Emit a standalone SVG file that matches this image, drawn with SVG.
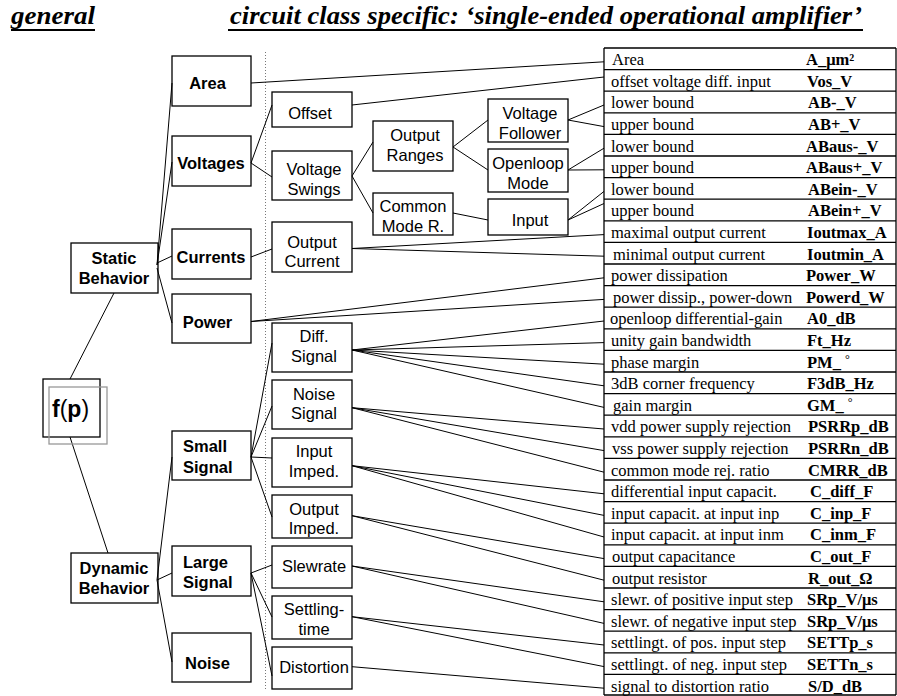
<svg xmlns="http://www.w3.org/2000/svg" width="897" height="696" viewBox="0 0 897 696">
<style>
.box{fill:none;stroke:#000;stroke-width:1.3}
.sh{fill:none;stroke:#999;stroke-width:1.3}
.nb{font-family:"Liberation Sans",Arial,sans-serif;font-size:16.5px;font-weight:bold;fill:#000}
.nr{font-family:"Liberation Sans",Arial,sans-serif;font-size:16.5px;fill:#000}
.c{text-anchor:middle}
.hd{font-family:"Liberation Serif","Times New Roman",serif;font-size:25px;font-weight:bold;font-style:italic;fill:#000}
.td{font-family:"Liberation Serif","Times New Roman",serif;font-size:16.5px;fill:#000}
.tp{font-family:"Liberation Serif","Times New Roman",serif;font-size:16.5px;font-weight:bold;fill:#000}
.ln{stroke:#000;stroke-width:1;fill:none}
.rl{stroke:#000;stroke-width:1.3}
.dot{stroke:#777;stroke-width:1;stroke-dasharray:1 2}
</style>

<g id="header">
<text class="hd" x="11" y="24" textLength="84" lengthAdjust="spacingAndGlyphs">general</text>
<rect x="11" y="29" width="84" height="2" fill="#000"/>
<text class="hd" x="230" y="24" textLength="632" lengthAdjust="spacingAndGlyphs">circuit class specific: ‘single-ended operational amplifier’</text>
<rect x="228" y="29" width="635" height="2" fill="#000"/>
</g>

<line class="dot" x1="265.5" y1="52" x2="265.5" y2="690"/>

<g id="connectors">
<path class="ln" d="M70,379L114,293 M70,437L108,553"/>
<path class="ln" d="M157,265L172,83 M157,265L172,162 M157,263L172,256 M157,268L172,323"/>
<path class="ln" d="M157,580L172,457 M157,580L172,573 M157,580L172,662"/>
<path class="ln" d="M251,163L272,105 M251,163L272,177 M251,257L272,249"/>
<path class="ln" d="M251,457L272,343 M251,457L272,406 M251,457L272,458 M251,457L272,517"/>
<path class="ln" d="M251,573L272,565 M251,573L272,617 M251,573L272,676"/>
<path class="ln" d="M352,176L373,142 M352,176L373,213"/>
<path class="ln" d="M453,147L488,120 M453,147L488,170 M453,213L488,220"/>
<path class="ln" d="M251,83L604,61.8 M352,105L604,77"/>
<path class="ln" d="M568,120L604,105 M568,120L604,126.6 M568,170L604,148.2 M568,170L604,169.8 M568,220L604,191.4 M568,220L604,203.5"/>
<path class="ln" d="M352,248.5L604,234.6 M352,248.5L604,256.2 M251,321.5L604,277.8 M251,321.5L604,299.4"/>
<path class="ln" d="M352,350L604,321 M352,350L604,342.6 M352,350L604,364.2 M352,350L604,385.8 M352,350L604,407.4"/>
<path class="ln" d="M352,407.7L604,429 M352,407.7L604,450.6 M352,407.7L604,472.2"/>
<path class="ln" d="M352,465.7L604,493.8 M352,465.7L604,515.4 M352,465.7L604,537"/>
<path class="ln" d="M352,515.7L604,558.6 M352,515.7L604,580.2"/>
<path class="ln" d="M352,566L604,601.8 M352,566L604,623.4 M352,616.7L604,645 M352,616.7L604,666.6 M352,666.7L604,688.2"/>
</g>

<g id="fp">
<rect class="box" x="43" y="379" width="57" height="58"/>
<rect class="sh" x="49" y="387" width="58" height="57"/>
<text x="52" y="417" font-family="Liberation Sans,Arial,sans-serif" font-size="23px"><tspan font-weight="bold">f</tspan>(<tspan font-weight="bold">p</tspan>)</text>
</g>

<g id="static"><rect class="box" x="71" y="243" width="87" height="50"/><text class="nb c" x="114" y="264">Static</text><text class="nb c" x="114" y="284">Behavior</text></g>
<g id="dynamic"><rect class="box" x="71" y="553" width="87" height="50"/><text class="nb c" x="114" y="574">Dynamic</text><text class="nb c" x="114" y="594">Behavior</text></g>

<g id="area"><rect class="box" x="172" y="56" width="79" height="50"/><text class="nb c" x="207.5" y="89">Area</text></g>
<g id="voltages"><rect class="box" x="172" y="136" width="79" height="50"/><text class="nb c" x="211" y="169">Voltages</text></g>
<g id="currents"><rect class="box" x="172" y="229" width="79" height="50"/><text class="nb c" x="211" y="263">Currents</text></g>
<g id="power"><rect class="box" x="172" y="294" width="79" height="49"/><text class="nb c" x="207.5" y="328">Power</text></g>
<g id="small"><rect class="box" x="172" y="431" width="79" height="49"/><text class="nb" x="183" y="452">Small</text><text class="nb" x="183" y="472.5">Signal</text></g>
<g id="large"><rect class="box" x="172" y="546" width="79" height="50"/><text class="nb" x="183" y="567.5">Large</text><text class="nb" x="183" y="587.5">Signal</text></g>
<g id="noise"><rect class="box" x="172" y="633" width="79" height="49"/><text class="nb c" x="207.5" y="669">Noise</text></g>

<g id="offset"><rect class="box" x="272" y="92" width="80" height="35"/><text class="nr c" x="310" y="118.5">Offset</text></g>
<g id="vswings"><rect class="box" x="272" y="151" width="80" height="49"/><text class="nr c" x="314" y="175.3">Voltage</text><text class="nr c" x="314" y="195.3">Swings</text></g>
<g id="ocurrent"><rect class="box" x="272" y="222" width="80" height="50"/><text class="nr c" x="312" y="247.7">Output</text><text class="nr c" x="312" y="267">Current</text></g>
<g id="diff"><rect class="box" x="272" y="323" width="80" height="49"/><text class="nr c" x="314" y="342">Diff.</text><text class="nr c" x="314" y="362">Signal</text></g>
<g id="noisesig"><rect class="box" x="272" y="380" width="80" height="49"/><text class="nr c" x="314" y="400">Noise</text><text class="nr c" x="314" y="419">Signal</text></g>
<g id="inimp"><rect class="box" x="272" y="438" width="80" height="49"/><text class="nr c" x="314" y="456.7">Input</text><text class="nr c" x="314" y="476.7">Imped.</text></g>
<g id="outimp"><rect class="box" x="272" y="495" width="80" height="43"/><text class="nr c" x="314" y="515">Output</text><text class="nr c" x="314" y="534.3">Imped.</text></g>
<g id="slew"><rect class="box" x="272" y="546" width="80" height="42"/><text class="nr c" x="314" y="572">Slewrate</text></g>
<g id="settling"><rect class="box" x="272" y="596" width="80" height="43"/><text class="nr c" x="314" y="615.3">Settling-</text><text class="nr c" x="314" y="635.3">time</text></g>
<g id="distortion"><rect class="box" x="272" y="647" width="80" height="42"/><text class="nr c" x="314" y="672.7">Distortion</text></g>

<g id="oranges"><rect class="box" x="373" y="121" width="80" height="50"/><text class="nr c" x="415" y="141">Output</text><text class="nr c" x="415" y="161">Ranges</text></g>
<g id="cmr"><rect class="box" x="373" y="193" width="80" height="42"/><text class="nr c" x="413" y="211.5">Common</text><text class="nr c" x="413" y="232">Mode R.</text></g>

<g id="vfollower"><rect class="box" x="488" y="99" width="80" height="43"/><text class="nr c" x="530" y="118.7">Voltage</text><text class="nr c" x="530" y="138.7">Follower</text></g>
<g id="openloop"><rect class="box" x="488" y="149" width="80" height="43"/><text class="nr c" x="528" y="169.3">Openloop</text><text class="nr c" x="528" y="188.7">Mode</text></g>
<g id="input"><rect class="box" x="488" y="199" width="80" height="36"/><text class="nr c" x="530" y="226">Input</text></g>

<g id="table">
<line class="rl" x1="604" y1="48" x2="604" y2="695"/>
<line class="rl" x1="896" y1="48" x2="896" y2="695"/>
<path class="rl" d="M604,48H896 M604,69.6H896 M604,91.2H896 M604,112.8H896 M604,134.4H896 M604,156H896 M604,177.6H896 M604,199.2H896 M604,220.8H896 M604,242.4H896 M604,264H896 M604,285.6H896 M604,307.2H896 M604,328.8H896 M604,350.4H896 M604,372H896 M604,393.6H896 M604,415.2H896 M604,436.8H896 M604,458.4H896 M604,480H896 M604,501.6H896 M604,523.2H896 M604,544.8H896 M604,566.4H896 M604,588H896 M604,609.6H896 M604,631.2H896 M604,652.8H896 M604,674.4H896 M604,695H896"/>
<text class="td" x="612" y="65.1">Area</text><text class="tp" x="806" y="65.1">A_μm²</text>
<text class="td" x="611" y="86.7">offset voltage diff. input</text><text class="tp" x="807" y="86.7">Vos_V</text>
<text class="td" x="611" y="108.3">lower bound</text><text class="tp" x="808" y="108.3">AB-_V</text>
<text class="td" x="611" y="129.9">upper bound</text><text class="tp" x="808" y="129.9">AB+_V</text>
<text class="td" x="611" y="151.5">lower bound</text><text class="tp" x="806" y="151.5">ABaus-_V</text>
<text class="td" x="611" y="173.1">upper bound</text><text class="tp" x="806" y="173.1">ABaus+_V</text>
<text class="td" x="611" y="194.7">lower bound</text><text class="tp" x="808" y="194.7">ABein-_V</text>
<text class="td" x="611" y="216.3">upper bound</text><text class="tp" x="808" y="216.3">ABein+_V</text>
<text class="td" x="611" y="237.9">maximal output current</text><text class="tp" x="807" y="237.9">Ioutmax_A</text>
<text class="td" x="613" y="259.5">minimal output current</text><text class="tp" x="807" y="259.5">Ioutmin_A</text>
<text class="td" x="611" y="281.1">power dissipation</text><text class="tp" x="806" y="281.1">Power_W</text>
<text class="td" x="613" y="302.7">power dissip., power-down</text><text class="tp" x="806" y="302.7">Powerd_W</text>
<text class="td" x="610" y="324.3">openloop differential-gain</text><text class="tp" x="807" y="324.3">A0_dB</text>
<text class="td" x="611" y="345.9">unity gain bandwidth</text><text class="tp" x="807" y="345.9">Ft_Hz</text>
<text class="td" x="611" y="367.5">phase margin</text><text class="tp" x="807" y="367.5">PM_ <tspan font-weight="normal" font-size="12px" dy="-5">°</tspan></text>
<text class="td" x="611" y="389.1">3dB corner frequency</text><text class="tp" x="807" y="389.1">F3dB_Hz</text>
<text class="td" x="613" y="410.7">gain margin</text><text class="tp" x="807" y="410.7">GM_ <tspan font-weight="normal" font-size="12px" dy="-5">°</tspan></text>
<text class="td" x="611" y="432.3">vdd power supply rejection</text><text class="tp" x="808" y="432.3">PSRRp_dB</text>
<text class="td" x="612" y="453.9">vss power supply rejection</text><text class="tp" x="808" y="453.9">PSRRn_dB</text>
<text class="td" x="611" y="475.5">common mode rej. ratio</text><text class="tp" x="808" y="475.5">CMRR_dB</text>
<text class="td" x="611" y="497.1">differential input capacit.</text><text class="tp" x="810" y="497.1">C_diff_F</text>
<text class="td" x="611" y="518.7">input capacit. at input inp</text><text class="tp" x="810" y="518.7">C_inp_F</text>
<text class="td" x="611" y="540.3">input capacit. at input inm</text><text class="tp" x="810" y="540.3">C_inm_F</text>
<text class="td" x="612" y="561.9">output capacitance</text><text class="tp" x="810" y="561.9">C_out_F</text>
<text class="td" x="612" y="583.5">output resistor</text><text class="tp" x="808" y="583.5">R_out_Ω</text>
<text class="td" x="611" y="605.1">slewr. of positive input step</text><text class="tp" x="807" y="605.1">SRp_V/μs</text>
<text class="td" x="611" y="626.7">slewr. of negative input step</text><text class="tp" x="807" y="626.7">SRp_V/μs</text>
<text class="td" x="611" y="648.3">settlingt. of pos. input step</text><text class="tp" x="807" y="648.3">SETTp_s</text>
<text class="td" x="611" y="669.9">settlingt. of neg. input step</text><text class="tp" x="807" y="669.9">SETTn_s</text>
<text class="td" x="611" y="691.5">signal to distortion ratio</text><text class="tp" x="808" y="691.5">S/D_dB</text>
</g>
</svg>
